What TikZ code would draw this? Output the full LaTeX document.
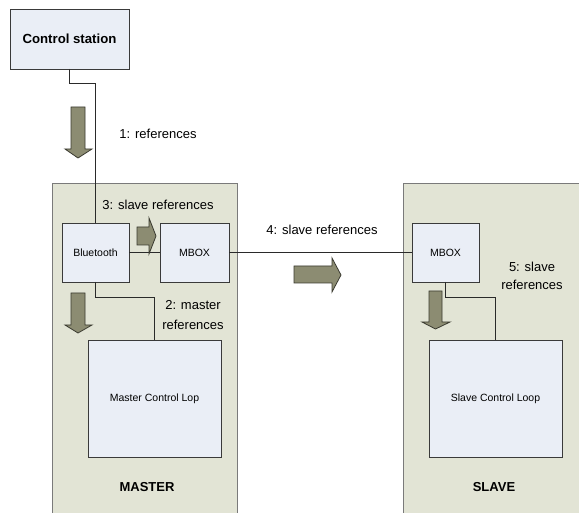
\documentclass[tikz,border=0pt]{standalone}
\usepackage{fontspec}
\setmainfont{Liberation Sans}
\definecolor{boxfill}{HTML}{EAEEF6}
\definecolor{boxline}{HTML}{3A3A3A}
\definecolor{contfill}{HTML}{E2E4D5}
\definecolor{contline}{HTML}{7A7A7A}
\definecolor{connline}{HTML}{2A2A2A}
\definecolor{arrowfill}{HTML}{8C8C72}
\definecolor{arrowline}{HTML}{3A3A30}
\begin{document}
\begin{tikzpicture}[x=1pt,y=-1pt,
  every node/.style={inner sep=0pt, outer sep=0pt},
  box/.style={draw=boxline, fill=boxfill, line width=0.9pt, anchor=north west, font=\fontsize{10.5}{12}\selectfont},
  container/.style={draw=contline, fill=contfill, line width=1pt, anchor=north west},
  lbl/.style={font=\fontsize{13}{20}\selectfont, align=center},
  title/.style={font=\bfseries\fontsize{13}{16}\selectfont},
  conn/.style={draw=connline, line width=0.9pt},
  blockarrow/.style={fill=arrowfill, draw=arrowline, line width=0.8pt, line join=miter}]
\useasboundingbox (0,0) rectangle (579,513);
\clip (0,0) rectangle (579,513);
\fill[white] (0,0) rectangle (579,513);

% containers
\node[container, minimum width=185, minimum height=340] (master) at (52,184) {};
\node[container, minimum width=200, minimum height=340] (slave) at (403,184) {};

% boxes
\node[box, minimum width=119, minimum height=60, font=\bfseries\fontsize{13.2}{16}\selectfont] (cs) at (10,9) {Control station};
\node[box, minimum width=67, minimum height=59] (bt) at (62,223) {Bluetooth};
\node[box, minimum width=69, minimum height=59] (mbm) at (160,223) {MBOX};
\node[box, minimum width=67, minimum height=59] (mbs) at (412,223) {MBOX};
\node[box, minimum width=133, minimum height=117] (mcl) at (88,340) {Master Control Lop};
\node[box, minimum width=133, minimum height=117] (scl) at (429,340) {Slave Control Loop};

% connectors
\draw[conn] (cs.south) -- ++(0,14) -| (bt.north);
\draw[conn] (bt.east) -- (mbm.west);
\draw[conn] (bt.south) -- ++(0,15) -| (mcl.north);
\draw[conn] (mbm.east) -- (mbs.west);
\draw[conn] (mbs.south) -- ++(0,15) -| (scl.north);

% block arrows
\draw[blockarrow] (71,107) -- (85,107) -- (85,149) -- (92,149) -- (78,158) -- (65,149) -- (71,149) -- cycle;
\draw[blockarrow] (71,293) -- (85,293) -- (85,325) -- (92,325) -- (78,333) -- (65,325) -- (71,325) -- cycle;
\draw[blockarrow] (429,291) -- (442,291) -- (442,322) -- (450,322) -- (435.5,329) -- (422,322) -- (429,322) -- cycle;
\draw[blockarrow] (137,227) -- (149,227) -- (149,218) -- (156,236) -- (149,254) -- (149,245) -- (137,245) -- cycle;
\draw[blockarrow] (294,266) -- (332,266) -- (332,258) -- (341,275) -- (332,292) -- (332,283) -- (294,283) -- cycle;

% labels
\node[lbl] (l1) at (158,134) {1: references};
\node[lbl] (l3) at (158,205) {3: slave references};
\node[lbl] (l2) at (193,315) {2: master\\references};
\node[lbl] (l4) at (322,230) {4: slave references};
\node[lbl, font=\fontsize{13}{18}\selectfont] (l5) at (532,276) {5: slave\\references};
\node[title] (tm) at (147,487) {MASTER};
\node[title] (ts) at (494,487) {SLAVE};
\end{tikzpicture}
\end{document}
